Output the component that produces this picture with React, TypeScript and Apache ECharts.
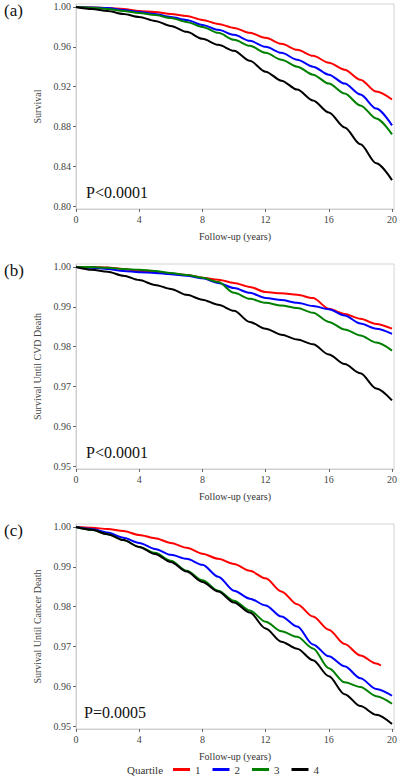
import React, { useEffect, useRef } from "react";
import * as echarts from "echarts";

const years = [0, 1, 2, 3, 4, 5, 6, 7, 8, 9, 10, 11, 12, 13, 14, 15, 16, 17, 18, 19, 20];
const yearsRedC = [0, 1, 2, 3, 4, 5, 6, 7, 8, 9, 10, 11, 12, 13, 14, 15, 16, 17, 18, 19, 19.3];
const xTicks = [0, 4, 8, 12, 16, 20];
const yTicksA = [0.8, 0.84, 0.88, 0.92, 0.96, 1.0];
const yTicksBC = [0.95, 0.96, 0.97, 0.98, 0.99, 1.0];
const panelLabels = ["(a)", "(b)", "(c)"];
const yTitles = ["Survival", "Survival Until CVD Death", "Survival Until Cancer Death"];
const xTitle = "Follow-up (years)";
const pValues = ["P<0.0001", "P<0.0001", "P=0.0005"];
const quartiles = ["1", "2", "3", "4"];
const legendTitle = "Quartile";
const colors = ["#ff0000", "#0000ff", "#008000", "#000000"];

// (a) overall survival
const survA1 = [1, 0.9995, 0.999, 0.998, 0.996, 0.995, 0.993, 0.991, 0.987, 0.983, 0.979, 0.974, 0.969, 0.963, 0.957, 0.951, 0.944, 0.937, 0.927, 0.915, 0.907];
const survA2 = [1, 0.9995, 0.999, 0.997, 0.995, 0.993, 0.99, 0.987, 0.982, 0.977, 0.972, 0.966, 0.96, 0.954, 0.947, 0.94, 0.932, 0.923, 0.912, 0.898, 0.881];
const survA3 = [1, 0.9993, 0.998, 0.996, 0.994, 0.992, 0.989, 0.985, 0.98, 0.974, 0.967, 0.961, 0.954, 0.947, 0.94, 0.932, 0.923, 0.913, 0.901, 0.888, 0.872];
const survA4 = [1, 0.998, 0.996, 0.993, 0.99, 0.986, 0.981, 0.975, 0.968, 0.962, 0.956, 0.946, 0.935, 0.926, 0.917, 0.906, 0.894, 0.879, 0.862, 0.843, 0.826];

// (b) survival until CVD death
const survB1 = [1, 1, 0.9999, 0.9995, 0.999, 0.9987, 0.9983, 0.998, 0.9973, 0.9968, 0.996, 0.995, 0.9937, 0.9934, 0.993, 0.9922, 0.9895, 0.9882, 0.987, 0.9857, 0.9845];
const survB2 = [1, 0.9998, 0.9995, 0.999, 0.9987, 0.9985, 0.9982, 0.9978, 0.9972, 0.996, 0.9947, 0.9935, 0.9922, 0.9917, 0.991, 0.9902, 0.9894, 0.9878, 0.9858, 0.9845, 0.9832];
const survB3 = [1, 1, 0.9998, 0.9995, 0.9993, 0.999, 0.9985, 0.998, 0.9973, 0.9962, 0.9935, 0.992, 0.991, 0.9903, 0.9897, 0.9885, 0.9862, 0.9843, 0.9828, 0.981, 0.979];
const survB4 = [1, 0.9993, 0.9988, 0.9978, 0.9967, 0.9955, 0.9945, 0.993, 0.9918, 0.9905, 0.989, 0.9862, 0.9845, 0.983, 0.9818, 0.9806, 0.978, 0.9756, 0.9733, 0.9695, 0.9665];

// (c) survival until cancer death
const survC1 = [1, 0.9998, 0.9995, 0.999, 0.998, 0.9972, 0.996, 0.9948, 0.9933, 0.992, 0.9907, 0.989, 0.9871, 0.9838, 0.9806, 0.9775, 0.9742, 0.9706, 0.9677, 0.9657, 0.9652];
const survC2 = [1, 0.9995, 0.9986, 0.9973, 0.996, 0.9945, 0.993, 0.992, 0.9905, 0.9875, 0.984, 0.982, 0.9803, 0.9775, 0.975, 0.9705, 0.9675, 0.965, 0.962, 0.9593, 0.9576];
const survC3 = [1, 0.9993, 0.9982, 0.9967, 0.995, 0.9935, 0.9915, 0.989, 0.9866, 0.984, 0.9815, 0.979, 0.9762, 0.9738, 0.9724, 0.9695, 0.9645, 0.961, 0.9598, 0.9575, 0.9556];
const survC4 = [1, 0.9993, 0.9982, 0.9967, 0.995, 0.9932, 0.9912, 0.9888, 0.9862, 0.9838, 0.981, 0.9785, 0.9745, 0.9712, 0.9694, 0.9665, 0.9625, 0.958, 0.955, 0.9528, 0.9505];

const panels = [
  { x: [years, years, years, years], y: [survA1, survA2, survA3, survA4], ticks: yTicksA, min: 0.797, max: 1.003 },
  { x: [years, years, years, years], y: [survB1, survB2, survB3, survB4], ticks: yTicksBC, min: 0.94925, max: 1.00075 },
  { x: [yearsRedC, years, years, years], y: [survC1, survC2, survC3, survC4], ticks: yTicksBC, min: 0.94925, max: 1.00075 },
];

const FONT = "Liberation Serif, Times New Roman, serif";
const GRID_TOPS = [4, 264, 524];
const GRID_H = 205;
const GRID_LEFT = 76;
const GRID_W = 320;

export default function App() {
  const ref = useRef<HTMLDivElement>(null);
  useEffect(() => {
    if (!ref.current) return;
    const chart = echarts.init(ref.current, undefined, { renderer: "svg" });
    const grids: any[] = [];
    const xAxes: any[] = [];
    const yAxes: any[] = [];
    const series: any[] = [];
    const graphics: any[] = [];
    panels.forEach((p, i) => {
      grids.push({
        left: GRID_LEFT,
        top: GRID_TOPS[i],
        width: GRID_W,
        height: GRID_H,
        show: true,
        borderColor: "#d4d4d4",
        borderWidth: 1,
        backgroundColor: "transparent",
      });
      xAxes.push({
        type: "value",
        gridIndex: i,
        min: 0,
        max: 20.13,
        name: xTitle,
        nameLocation: "middle",
        nameGap: 22,
        nameTextStyle: { fontFamily: FONT, fontSize: 10, color: "#333" },
        axisLine: { show: true, lineStyle: { color: "#cfcfcf", width: 1 } },
        axisTick: { show: true, length: 3, customValues: xTicks, lineStyle: { color: "#666" } },
        axisLabel: {
          customValues: xTicks,
          margin: 5,
          fontFamily: FONT,
          fontSize: 10,
          color: "#444",
          formatter: (v: number) => String(Math.round(v)),
        },
        splitLine: { show: false },
      });
      yAxes.push({
        type: "value",
        gridIndex: i,
        min: p.min,
        max: p.max,
        name: yTitles[i],
        nameLocation: "middle",
        nameGap: 29,
        nameRotate: 90,
        nameTextStyle: { fontFamily: FONT, fontSize: 10, color: "#444" },
        axisLine: { show: true, lineStyle: { color: "#cfcfcf", width: 1 } },
        axisTick: { show: true, length: 3, customValues: p.ticks, lineStyle: { color: "#666" } },
        axisLabel: {
          customValues: p.ticks,
          margin: 5,
          fontFamily: FONT,
          fontSize: 10,
          color: "#444",
          formatter: (v: number) => v.toFixed(2),
        },
        splitLine: { show: false },
      });
      quartiles.forEach((q, k) => {
        series.push({
          type: "line",
          name: q,
          xAxisIndex: i,
          yAxisIndex: i,
          data: p.x[k].map((xv: number, j: number) => [xv, p.y[k][j]]),
          showSymbol: false,
          symbol: "none",
          smooth: 0.3,
          smoothMonotone: "x",
          lineStyle: { color: colors[k], width: 2 },
          itemStyle: { color: colors[k] },
          z: 2 + k,
        });
      });
      graphics.push({
        type: "text",
        left: 4,
        top: GRID_TOPS[i] - 2,
        style: { text: panelLabels[i], fontFamily: FONT, fontSize: 17, fill: "#111" },
      });
      graphics.push({
        type: "text",
        left: i === 2 ? 84 : 86,
        top: GRID_TOPS[i] + 180,
        style: { text: pValues[i], fontFamily: FONT, fontSize: 16, fill: "#111" },
      });
    });
    graphics.push({
      type: "text",
      left: 127,
      top: 764,
      style: { text: legendTitle, fontFamily: FONT, fontSize: 11, fill: "#333" },
    });
    chart.setOption({
      animation: false,
      backgroundColor: "#ffffff",
      grid: grids,
      xAxis: xAxes,
      yAxis: yAxes,
      series,
      graphic: graphics,
      legend: {
        data: quartiles.map((q, k) => ({ name: q, icon: "rect", itemStyle: { color: colors[k] } })),
        left: 168,
        top: 759,
        itemWidth: 17,
        itemHeight: 3,
        itemGap: 12,
        textStyle: { fontFamily: FONT, fontSize: 11, color: "#333" },
        selectedMode: false,
      },
    });
    return () => chart.dispose();
  }, []);
  return (
    <div
      ref={ref}
      style={{ position: "fixed", left: 0, top: 0, width: 400, height: 777, background: "#fff" }}
    />
  );
}
